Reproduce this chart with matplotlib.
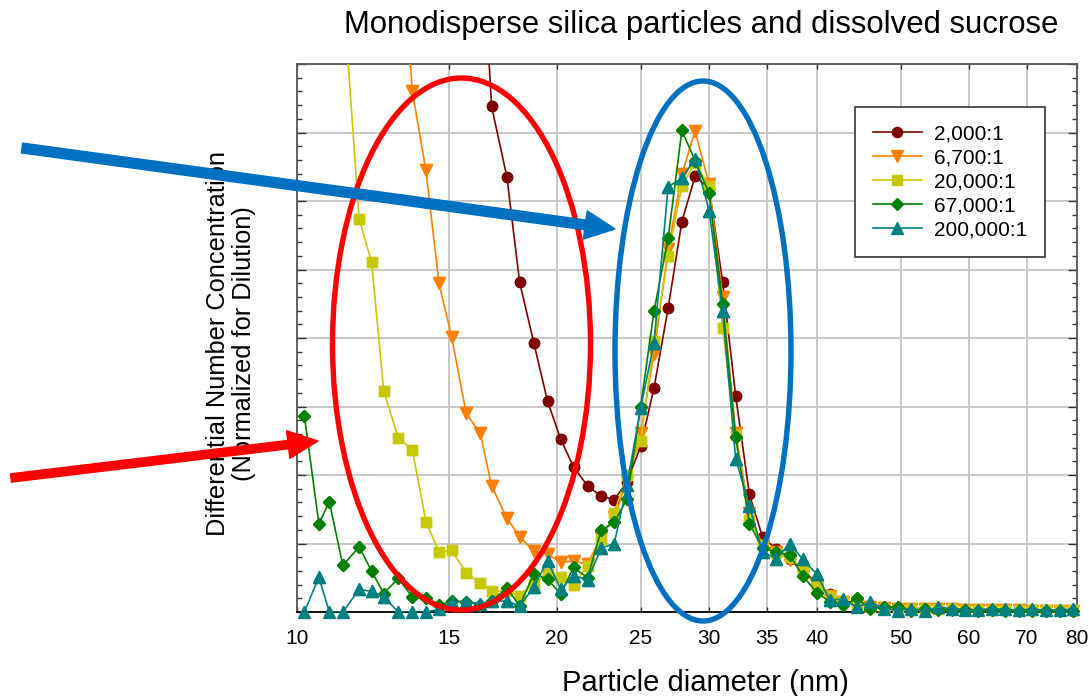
import numpy as np
import matplotlib
matplotlib.use("Agg")
import matplotlib.pyplot as plt
from matplotlib.patches import Ellipse, FancyArrowPatch
from matplotlib.ticker import MultipleLocator, NullLocator

plt.rcParams['font.family'] = ['Liberation Sans', 'DejaVu Sans']

nan = np.nan

# SMPS channel midpoints, 64 channels per decade (nm)
diameters = [10.2, 10.6, 10.9, 11.3, 11.8, 12.2, 12.6, 13.1, 13.6, 14.1,
             14.6, 15.1, 15.7, 16.3, 16.8, 17.5, 18.1, 18.8, 19.5, 20.2,
             20.9, 21.7, 22.5, 23.3, 24.1, 25.0, 25.9, 26.9, 27.9, 28.9,
             30.0, 31.1, 32.2, 33.4, 34.6, 35.9, 37.2, 38.5, 40.0, 41.4,
             42.9, 44.5, 46.1, 47.8, 49.6, 51.4, 53.3, 55.2, 57.3, 59.4,
             61.5, 63.8, 66.1, 68.5, 71.0, 73.7, 76.4, 79.1]

# dilution series, normalised concentration (off-scale channels left as nan)
dil_2000 = [nan] * 13 + [
    10.3, 7.38, 6.35, 4.82, 3.93, 3.08, 2.52,
    2.12, 1.84, 1.69, 1.64, 1.90, 2.42, 3.27, 4.44, 5.70, 6.36,
    6.18, 4.82, 3.16, 1.72, 1.09, 0.92, 0.78, 0.62, 0.41, 0.26,
    0.15, 0.12, 0.09, 0.07, 0.06, 0.05, 0.05, 0.04, 0.04, 0.04,
    0.03, 0.03, 0.03, 0.03, 0.03, 0.02, 0.02, 0.02]

dil_6700 = [nan] * 7 + [
    10.3, 7.60, 6.45,
    4.80, 4.02, 2.90, 2.61, 1.84, 1.37, 1.10, 0.89, 0.84, 0.73,
    0.74, 0.70, 1.10, 1.38, 1.91, 2.61, 3.77, 5.30, 6.39, 7.02,
    6.25, 4.60, 2.62, 1.44, 0.97, 0.88, 0.76, 0.60, 0.38, 0.24,
    0.14, 0.10, 0.08, 0.06, 0.05, 0.05, 0.04, 0.04, 0.04, 0.03,
    0.03, 0.03, 0.03, 0.03, 0.02, 0.02, 0.02, 0.02]

dil_20000 = [nan] * 3 + [
    9.13, 5.74, 5.11, 3.23, 2.54, 2.37, 1.32,
    0.88, 0.90, 0.57, 0.42, 0.31, 0.30, 0.24, 0.41, 0.56, 0.51,
    0.40, 0.67, 1.06, 1.45, 2.00, 2.49, 3.95, 5.20, 6.22, 6.55,
    6.22, 4.14, 2.58, 1.34, 0.98, 0.86, 0.80, 0.62, 0.37, 0.24,
    0.16, 0.10, 0.08, 0.06, 0.05, 0.05, 0.04, 0.04, 0.04, 0.03,
    0.03, 0.03, 0.03, 0.03, 0.03, 0.03, 0.03, 0.03]

dil_67000 = [
    2.86, 1.29, 1.61, 0.68, 0.95, 0.60, 0.27, 0.49, 0.22, 0.20,
    0.10, 0.16, 0.15, 0.10, 0.16, 0.35, 0.09, 0.56, 0.48, 0.26,
    0.65, 0.50, 1.19, 1.31, 1.65, 3.00, 4.39, 5.46, 7.03, 6.59,
    6.11, 4.50, 2.55, 1.29, 0.93, 0.88, 0.83, 0.53, 0.28, 0.15,
    0.10, 0.20, 0.05, 0.07, 0.07, 0.02, 0.04, 0.03, 0.03, 0.03,
    0.02, 0.03, 0.02, 0.02, 0.02, 0.02, 0.02, 0.02]

dil_200000 = [
    0.00, 0.51, 0.00, 0.00, 0.33, 0.30, 0.22, 0.00, 0.00, 0.00,
    0.04, 0.15, 0.15, 0.12, 0.16, 0.16, 0.09, 0.36, 0.75, 0.33,
    0.53, 0.47, 0.93, 1.00, 1.85, 2.98, 3.93, 6.21, 6.33, 6.62,
    5.86, 4.39, 2.24, 1.55, 0.88, 0.78, 1.00, 0.77, 0.55, 0.17,
    0.19, 0.07, 0.15, 0.05, 0.02, 0.05, 0.02, 0.07, 0.05, 0.03,
    0.03, 0.05, 0.04, 0.03, 0.04, 0.03, 0.03, 0.04]

labels = ['2,000:1', '6,700:1', '20,000:1', '67,000:1', '200,000:1']
colors = ['#800000', '#ff8000', '#c8c800', '#008000', '#008080']
markers = ['o', 'v', 's', 'D', '^']
msizes = [7.3, 8.0, 7.0, 6.3, 8.0]
series = [dil_2000, dil_6700, dil_20000, dil_67000, dil_200000]

W, H = 1089, 696
fig = plt.figure(figsize=(W / 100, H / 100), dpi=100)
ax = fig.add_axes([297 / W, 1 - 612 / H, 780 / W, 548 / H])

x = np.array(diameters)
for vals, lab, col, mk, ms in zip(series, labels, colors, markers, msizes):
    y = np.array(vals, dtype=float)
    ax.plot(x, y, color=col, lw=1.2, marker=mk, ms=ms, mec=col, mfc=col,
            label=lab, zorder=3)
    # markers sitting on the baseline are not cut off by the frame
    keep = (y >= 0) & (y <= 8)
    ax.plot(x[keep], y[keep], ls='none', marker=mk, ms=ms, mec=col, mfc=col,
            clip_on=False, zorder=3)

ax.set_xscale('log')
ax.set_xlim(10, 80)
ax.set_ylim(0, 8)
xt = [10, 15, 20, 25, 30, 35, 40, 50, 60, 70, 80]
ax.set_xticks(xt)
ax.set_xticklabels([str(v) for v in xt])
ax.xaxis.set_minor_locator(NullLocator())
ax.yaxis.set_major_locator(MultipleLocator(1))
ax.yaxis.set_minor_locator(MultipleLocator(0.2))
ax.tick_params(axis='x', which='major', direction='in', top=True, length=3.5,
               width=1, labelsize=15, pad=12, color='#333333')
ax.tick_params(axis='y', which='major', direction='in', left=True, right=True,
               length=6.5, width=1, labelleft=False, color='#333333')
ax.tick_params(axis='y', which='minor', direction='in', left=True, right=True,
               length=3.6, width=1, color='#333333')
ax.grid(True, which='major', color='#c4c4c4', lw=1.3, zorder=0)
ax.set_axisbelow(True)
for side in ['left', 'top', 'right']:
    ax.spines[side].set_color('#555555')
    ax.spines[side].set_linewidth(1.3)
ax.spines['bottom'].set_color('black')
ax.spines['bottom'].set_linewidth(1.3)

leg = ax.legend(loc='upper left', bbox_to_anchor=(855 / W, 1 - 107 / H),
                bbox_transform=fig.transFigure, fontsize=15, frameon=True,
                fancybox=False, edgecolor='#333333', framealpha=1,
                handlelength=2.35, handletextpad=0.58, labelspacing=0.24,
                borderpad=0.85, borderaxespad=0)
leg.get_frame().set_linewidth(1.2)
leg.set_zorder(5)

fig.text(701 / W, 1 - 25 / H, 'Monodisperse silica particles and dissolved sucrose',
         ha='center', va='center', fontsize=22.4)
fig.text(705 / W, 1 - 683 / H, 'Particle diameter (nm)',
         ha='center', va='center', fontsize=21)
fig.text(231 / W, 1 - 344 / H,
         'Differential Number Concentration\n(Normalized for Dilution)',
         ha='center', va='center', rotation=90, fontsize=18.3,
         multialignment='center', linespacing=1.1)

# highlight rings
fig.patches.append(Ellipse((461.5 / W, 1 - 344 / H), 258 / W, 532 / H,
                           transform=fig.transFigure, fill=False,
                           ec='#ff0000', lw=3.9, zorder=4))
fig.patches.append(Ellipse((703 / W, 1 - 351 / H), 176 / W, 540 / H,
                           transform=fig.transFigure, fill=False,
                           ec='#0070c0', lw=3.9, zorder=4))

# pointer arrows
blue = FancyArrowPatch((22 / W, 1 - 148 / H), (615 / W, 1 - 229 / H),
                       transform=fig.transFigure, mutation_scale=1,
                       arrowstyle='simple,head_length=21.6,head_width=20.5,tail_width=7.1',
                       color='#0070c0', shrinkA=0, shrinkB=0, zorder=6)
red = FancyArrowPatch((11 / W, 1 - 478 / H), (318 / W, 1 - 441 / H),
                      transform=fig.transFigure, mutation_scale=1,
                      arrowstyle='simple,head_length=21.6,head_width=20,tail_width=6',
                      color='#ff0000', shrinkA=0, shrinkB=0, zorder=6)
fig.patches.append(blue)
fig.patches.append(red)

fig.savefig('out.png', dpi=100)
